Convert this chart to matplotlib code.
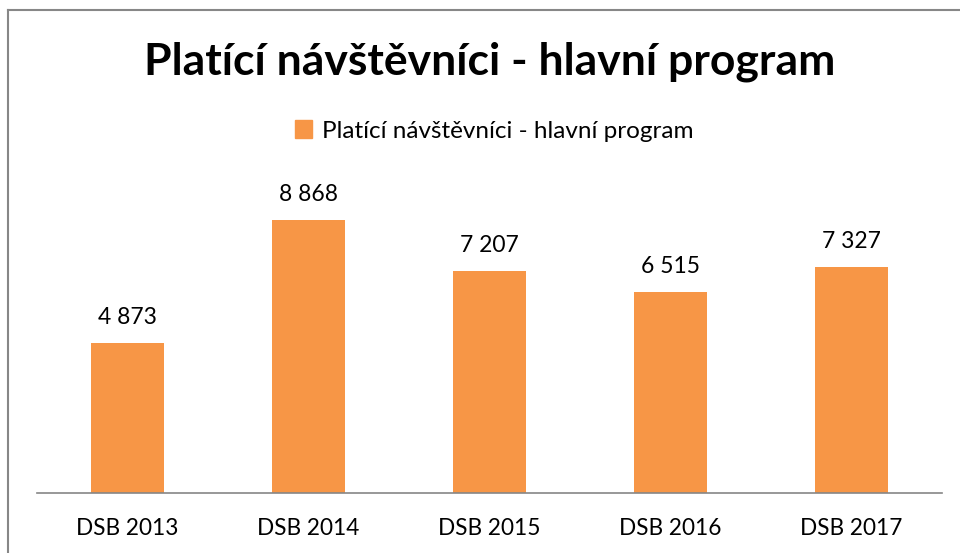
import matplotlib.pyplot as plt
from matplotlib.patches import Patch

plt.rcParams['font.family'] = ['Lato', 'DejaVu Sans']

categories = ["DSB 2013", "DSB 2014", "DSB 2015", "DSB 2016", "DSB 2017"]
values = [4873, 8868, 7207, 6515, 7327]
series_name = "Platící návštěvníci - hlavní program"
bar_color = "#F79646"

fig = plt.figure(figsize=(9.6, 5.53), dpi=100)
ax = fig.add_axes([37 / 960, 1 - 493 / 553, 905 / 960, 308 / 553])

x = range(len(categories))
ax.bar(x, values, width=0.4, color=bar_color)
ax.set_xlim(-0.5, len(categories) - 0.5)
ax.set_ylim(0, 10000)

for xi, v in zip(x, values):
    ax.annotate(f"{v:,}".replace(",", " "), (xi, v), xytext=(0, 11),
                textcoords="offset points", ha="center", va="bottom", fontsize=16.5)

ax.set_xticks(list(x))
ax.set_xticklabels(categories, fontsize=16.3)
ax.tick_params(axis="x", length=0, pad=18)
ax.set_yticks([])
for s in ["top", "right", "left"]:
    ax.spines[s].set_visible(False)
ax.spines["bottom"].set_color("#868686")
ax.spines["bottom"].set_linewidth(1.2)

fig.text(490 / 960, 1 - 62 / 553, series_name, ha="center", va="center",
         fontsize=32, fontweight="bold")
fig.legend(handles=[Patch(color=bar_color, label=series_name)],
           loc="center", bbox_to_anchor=(494 / 960, 1 - 131 / 553), frameon=False,
           fontsize=17.5, handlelength=0.7, handleheight=0.7, handletextpad=0.4)

# chart frame (left and top edges visible)
fig.add_artist(plt.Line2D([8 / 960, 8 / 960], [0, 1 - 10 / 553], color="#878787", lw=1.5))
fig.add_artist(plt.Line2D([8 / 960, 1], [1 - 10 / 553, 1 - 10 / 553], color="#878787", lw=1.5))

fig.savefig("out.png", dpi=100)
